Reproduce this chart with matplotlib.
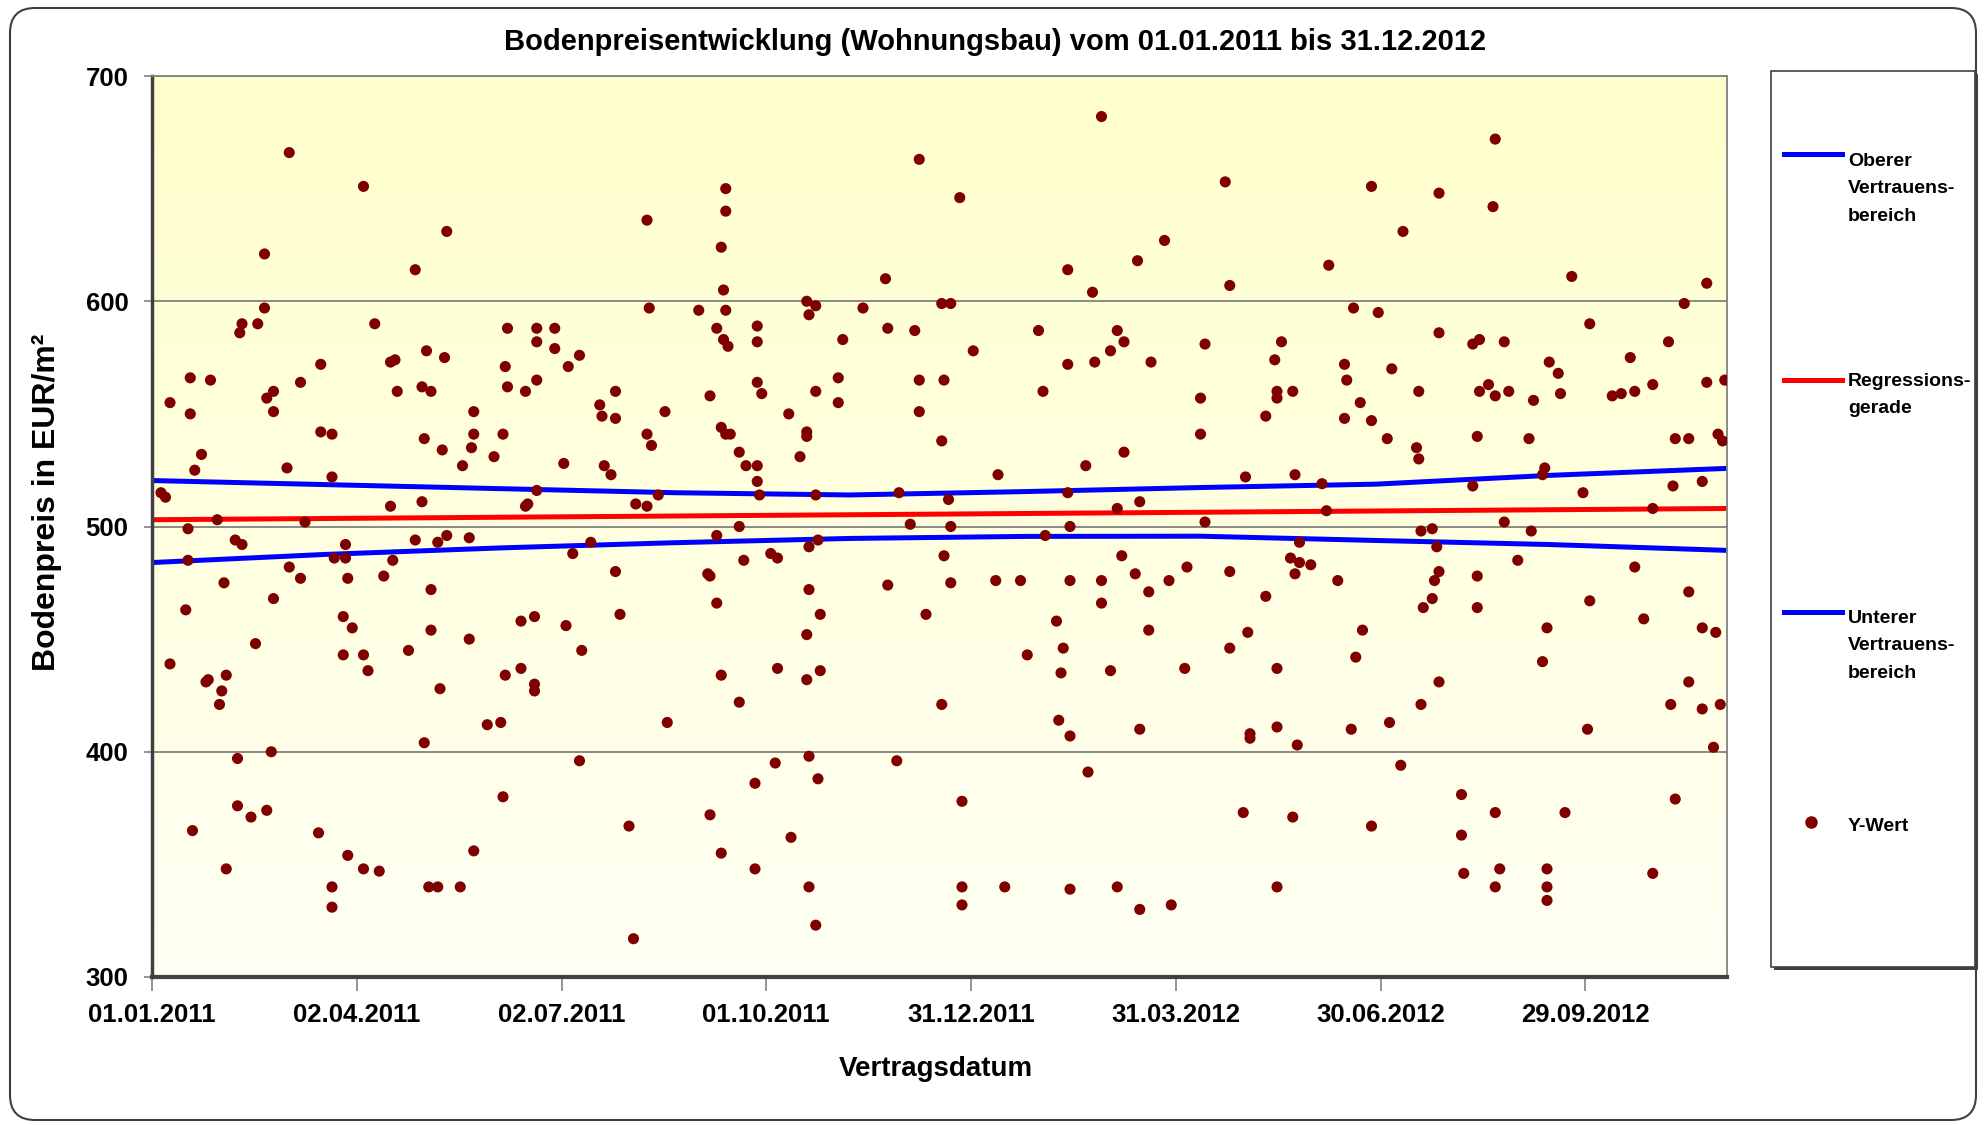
import numpy as np
import pandas as pd
import matplotlib
matplotlib.use("Agg")
import matplotlib.pyplot as plt
import matplotlib.dates as mdates
from matplotlib.colors import LinearSegmentedColormap
from matplotlib.patches import FancyBboxPatch, Rectangle
from matplotlib.lines import Line2D
from matplotlib.transforms import IdentityTransform

START = pd.Timestamp("2011-01-01")

# Vertragsdatum als Tage ab 01.01.2011, Bodenpreis in EUR/m2
tage = [
    61, 50, 50, 40, 39, 47, 75, 17, 26, 66, 8, 54, 51, 17, 54, 75, 22, 19, 60, 4,
    6, 29, 68, 16, 37, 40, 16, 61, 66, 32, 54, 15, 46, 8, 24, 25, 33, 31, 30, 38,
    53, 38, 44, 51, 18, 74, 33,
    94, 131, 117, 99, 106, 108, 122, 130, 109, 120, 124, 143, 80, 121, 129, 143, 142, 138, 152, 80,
    106, 120, 117, 127, 131, 141, 86, 81, 86, 87, 103, 107, 124, 85, 89, 124, 114, 141, 85, 94,
    96, 128, 149, 121, 87, 94, 101, 80, 80, 123, 127, 137, 143,
    220, 221, 158, 171, 179, 171, 179, 157, 185, 190, 158, 166, 171, 199, 200, 206, 206, 228, 156, 183,
    201, 204, 220, 222, 171, 166, 167, 215, 220, 225, 195, 187, 206, 208, 164, 170, 184, 191, 164, 157,
    170, 170, 155, 229, 190, 156, 212, 214,
    255, 255, 253, 254, 243, 255, 251, 254, 256, 269, 269, 291, 295, 292, 307, 248, 269, 271, 283, 295,
    305, 305, 253, 255, 257, 291, 291, 261, 264, 269, 288, 269, 270, 295, 251, 261, 263, 275, 278, 296,
    292, 247, 248, 251, 292, 297, 291, 253, 278, 291, 297, 261, 277, 292, 268, 296, 248, 253, 268, 284,
    292, 295,
    341, 359, 326, 316, 351, 355, 327, 339, 365, 341, 352, 341, 351, 376, 332, 354, 337, 355, 352, 327,
    355, 375, 386, 344, 351, 331, 360, 360, 360, 379,
    422, 407, 418, 438, 450, 394, 407, 419, 426, 429, 432, 444, 396, 432, 415, 407, 429, 439, 408, 397,
    431, 437, 443, 452, 460, 408, 422, 422, 402, 405, 443, 389, 404, 426, 459, 403, 408, 439, 416, 408,
    429, 439, 453,
    477, 542, 479, 523, 534, 545, 468, 502, 499, 530, 531, 500, 500, 507, 466, 495, 537, 530, 542, 466,
    486, 508, 520, 468, 522, 510, 506, 510, 508, 515, 479, 527, 495, 538, 487, 479, 535, 500, 488, 488,
    500, 509, 533, 485, 507, 542, 500,
    597, 572, 596, 556, 572, 551, 587, 590, 601, 563, 590, 594, 597, 603, 614, 621, 549, 562, 563, 589,
    612, 619, 618, 587, 601, 564, 569, 571, 613, 607, 572, 570, 589, 569, 565, 589, 620, 618, 572, 564,
    550, 555, 582, 597, 582, 583, 599, 597, 620, 620, 620,
    631, 691, 681, 639, 674, 657, 625, 626, 649, 653, 659, 667, 691, 699, 677, 683, 696, 698, 636, 676,
    689, 667, 659, 683, 639, 663, 689, 695, 683, 675, 689, 697, 638, 694, 677, 628, 667,
]
preise = [
    666, 621, 597, 590, 586, 590, 572, 566, 565, 564, 555, 560, 557, 550, 551, 542, 532, 525, 526, 515,
    513, 503, 502, 499, 494, 492, 485, 482, 477, 475, 468, 463, 448, 439, 431, 432, 434, 427, 421, 397,
    400, 376, 371, 374, 365, 364, 348,
    651, 631, 614, 590, 573, 574, 578, 575, 560, 562, 560, 551, 541, 539, 534, 541, 535, 527, 531, 522,
    509, 511, 494, 493, 496, 495, 492, 486, 486, 477, 478, 485, 472, 460, 455, 454, 445, 450, 443, 443,
    436, 428, 412, 404, 354, 348, 347, 340, 331, 340, 340, 340, 356,
    636, 597, 588, 588, 588, 582, 579, 571, 571, 576, 562, 560, 565, 554, 549, 560, 548, 551, 541, 528,
    527, 523, 541, 536, 516, 509, 510, 510, 509, 514, 493, 488, 480, 461, 458, 460, 456, 445, 437, 434,
    430, 427, 413, 413, 396, 380, 367, 317,
    650, 640, 624, 605, 596, 596, 588, 583, 580, 589, 582, 600, 598, 594, 583, 558, 564, 559, 550, 560,
    566, 555, 544, 541, 541, 542, 540, 533, 527, 527, 531, 520, 514, 514, 496, 500, 485, 488, 486, 494,
    491, 479, 478, 466, 472, 461, 452, 434, 437, 432, 436, 422, 395, 398, 386, 388, 372, 355, 348, 362,
    340, 323,
    663, 646, 610, 597, 599, 599, 588, 587, 578, 565, 565, 551, 538, 523, 515, 512, 501, 500, 487, 474,
    475, 476, 476, 461, 421, 396, 378, 340, 332, 340,
    682, 614, 604, 618, 627, 587, 572, 573, 578, 587, 582, 573, 560, 533, 527, 515, 508, 511, 500, 496,
    487, 479, 471, 476, 482, 476, 476, 466, 458, 446, 454, 443, 435, 436, 437, 414, 407, 410, 391, 339,
    340, 330, 332,
    653, 651, 607, 616, 597, 595, 581, 582, 574, 572, 565, 560, 557, 560, 557, 549, 555, 548, 547, 541,
    522, 523, 519, 502, 507, 493, 486, 484, 479, 483, 480, 476, 469, 454, 453, 446, 442, 437, 408, 406,
    411, 403, 410, 373, 371, 367, 340,
    672, 648, 642, 631, 586, 570, 581, 583, 582, 560, 560, 563, 558, 560, 556, 573, 539, 535, 530, 540,
    539, 526, 523, 518, 502, 498, 499, 491, 498, 485, 480, 476, 478, 468, 464, 464, 455, 440, 431, 421,
    413, 394, 381, 373, 363, 346, 348, 340, 348, 340, 334,
    611, 608, 599, 590, 582, 575, 568, 559, 558, 559, 560, 563, 564, 565, 539, 539, 541, 538, 515, 518,
    520, 508, 482, 471, 467, 459, 455, 453, 431, 421, 419, 421, 410, 402, 379, 373, 346,
]

# Vertrauensbereich und Regressionsgerade
ci_tage = [0, 77, 155, 232, 310, 388, 466, 544, 621, 700]
ci_oben = [520.4, 518.6, 516.8, 515.0, 514.0, 515.5, 517.3, 518.8, 522.7, 525.8]
ci_unten = [484.0, 487.6, 490.5, 492.8, 494.7, 495.6, 495.7, 493.8, 492.0, 489.4]
reg_tage = [0, 700]
reg_werte = [503.0, 508.0]

tick_tage = [0, 91, 182, 273, 364, 455, 546, 637]
y_ticks = [300, 400, 500, 600, 700]

plt.rcParams["font.family"] = ["Liberation Sans", "DejaVu Sans"]
plt.rcParams["font.weight"] = "bold"

BLUE = "#0000FF"
RED = "#FF0000"
DOT = "#800000"


def to_dates(d):
    return START + pd.to_timedelta(d, unit="D")


W, H = 1984, 1125
fig = plt.figure(figsize=(W / 100, H / 100), dpi=100)
ax = fig.add_axes([152 / W, 1 - 977 / H, (1727 - 152) / W, (977 - 76) / H])

# yellow gradient plot area
cmap = LinearSegmentedColormap.from_list("bg", ["#FFFFF4", "#FFFFCC"])
grad = np.linspace(0, 1, 256).reshape(-1, 1)
ax.imshow(grad, extent=[0, 1, 0, 1], transform=ax.transAxes, origin="lower",
          aspect="auto", cmap=cmap, zorder=0)

ax.plot(to_dates(ci_tage), ci_oben, color=BLUE, lw=3.6, zorder=2)
ax.plot(to_dates(reg_tage), reg_werte, color=RED, lw=3.6, zorder=2)
ax.plot(to_dates(ci_tage), ci_unten, color=BLUE, lw=3.6, zorder=2)
ax.scatter(to_dates(tage), preise, s=64, color=DOT, edgecolors="none", zorder=3)

ax.set_xlim(START, to_dates(700))
ax.set_ylim(300, 700)
ax.set_xticks(to_dates(tick_tage))
ax.xaxis.set_major_formatter(mdates.DateFormatter("%d.%m.%Y"))
ax.set_yticks(y_ticks)
ax.yaxis.grid(True, color="#808080", lw=1.3)
ax.set_axisbelow(True)

for s in ["top", "right"]:
    ax.spines[s].set_color("#808080")
    ax.spines[s].set_linewidth(1.3)
ax.spines["left"].set_color("#404040")
ax.spines["left"].set_linewidth(2.5)
ax.spines["bottom"].set_color("#404040")
ax.spines["bottom"].set_linewidth(3)

ax.tick_params(axis="x", direction="out", length=10, width=1.2, color="#808080",
               pad=9, labelsize=18.5)
ax.tick_params(axis="y", direction="out", length=6, width=1.2, color="#808080",
               pad=11, labelsize=18.5)

fig.text(995 / W, 1 - 42 / H, "Bodenpreisentwicklung (Wohnungsbau) vom 01.01.2011 bis 31.12.2012",
         ha="center", va="center", fontsize=21)
fig.text(936 / W, 1 - 1069 / H, "Vertragsdatum", ha="center", va="center", fontsize=20)
fig.text(47 / W, 1 - 502 / H, "Bodenpreis in EUR/m²", ha="center", va="center",
         rotation=90, fontsize=23)

# legend box with shadow
lx0, lx1, ly0, ly1 = 1771, 1975, 71, 967
fig.add_artist(Rectangle(((lx0 + 3) / W, 1 - (ly1 + 3) / H), (lx1 - lx0) / W, (ly1 - ly0) / H,
                         transform=fig.transFigure, fc="#404040", ec="none"))
fig.add_artist(Rectangle((lx0 / W, 1 - ly1 / H), (lx1 - lx0) / W, (ly1 - ly0) / H,
                         transform=fig.transFigure, fc="white", ec="#404040", lw=1.2))

eintraege = [
    ("line", BLUE, 154, 164, "Oberer\nVertrauens-\nbereich"),
    ("line", RED, 380, 384, "Regressions-\ngerade"),
    ("line", BLUE, 612, 621, "Unterer\nVertrauens-\nbereich"),
    ("dot", DOT, 822, 829, "Y-Wert"),
]
for art, col, yy, ytxt, txt in eintraege:
    yf = 1 - yy / H
    if art == "line":
        fig.add_artist(Line2D([1784 / W, 1842 / W], [yf, yf], color=col, lw=3.6,
                              transform=fig.transFigure))
    else:
        fig.add_artist(Line2D([1811 / W], [yf], marker="o", ms=8, color=col, lw=0,
                              transform=fig.transFigure))
    fig.text(1848 / W, 1 - (ytxt - 11) / H, txt, ha="left", va="top", fontsize=14,
             linespacing=1.8)

# rounded outer frame
fig.add_artist(FancyBboxPatch((10, 5), 1966, 1112, boxstyle="round,pad=0,rounding_size=25",
                              transform=IdentityTransform(), fill=False, ec="#404040", lw=1.5))

fig.savefig("out.png", dpi=100)
